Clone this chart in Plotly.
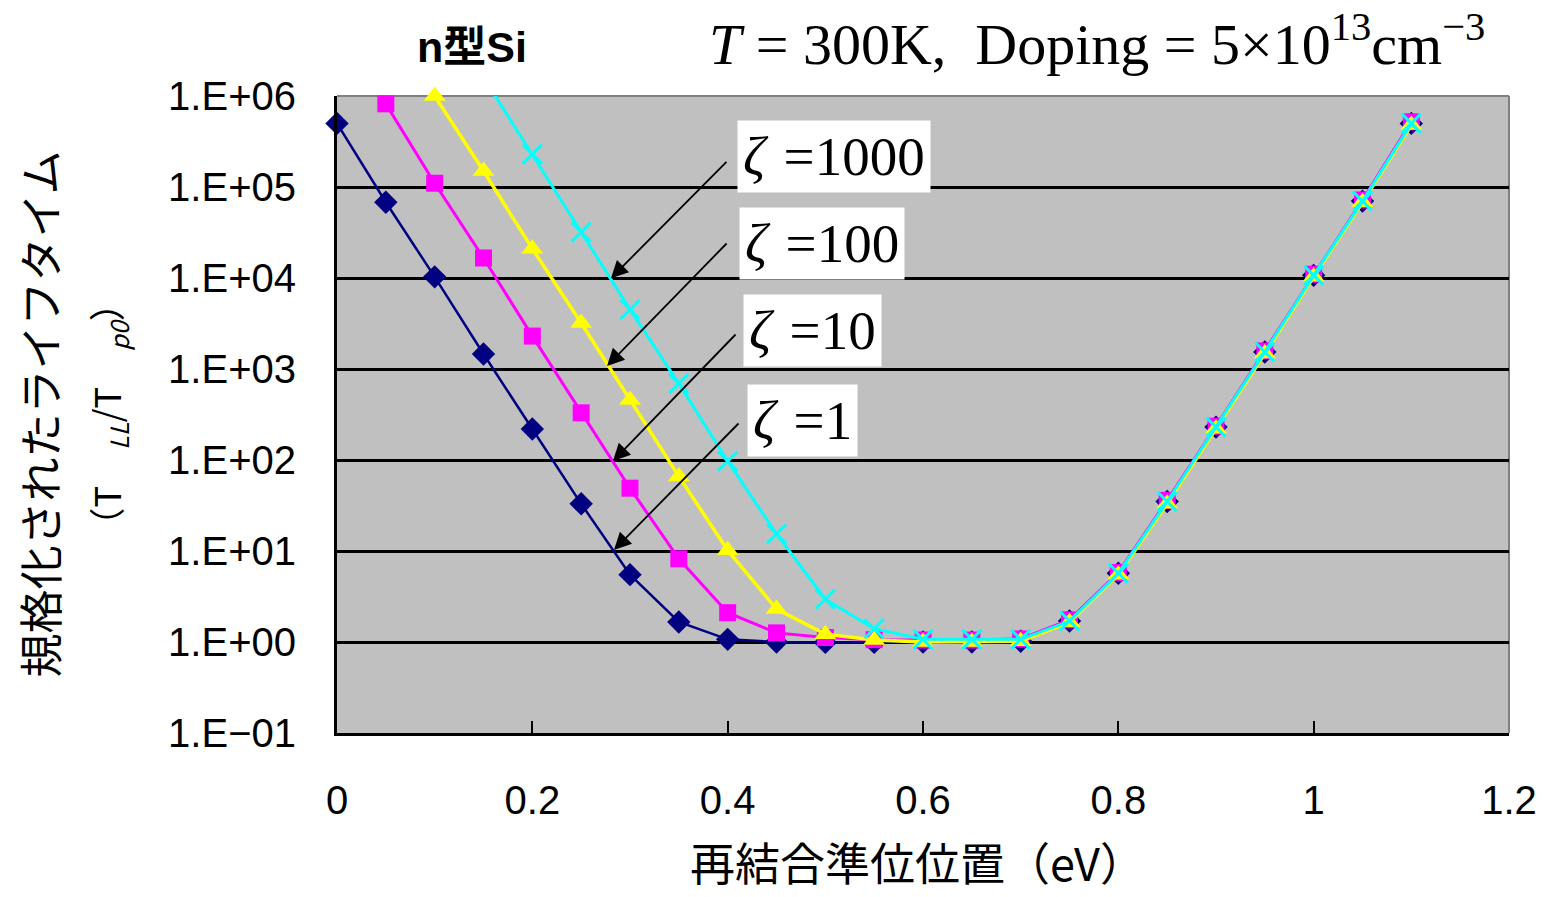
import plotly.graph_objects as go

# Recombination level position (eV)
energy = [0.0, 0.05, 0.1, 0.15, 0.2, 0.25, 0.3, 0.35, 0.4, 0.45, 0.5, 0.55,
          0.6, 0.65, 0.7, 0.75, 0.8, 0.85, 0.9, 0.95, 1.0, 1.05, 1.1]

# Normalized lifetime for each capture-ratio zeta
zeta_1 = [5.0e5, 6.8e4, 1.03e4, 1.46e3, 219, 33, 5.5, 1.66, 1.07, 1.0, 0.99, 0.99,
          1.0, 1.0, 1.02, 1.7, 5.7, 35, 230, 1.54e3, 1.07e4, 7.0e4, 5.0e5]
zeta_10 = [5.0e6, 8.2e5, 1.1e5, 1.66e4, 2.3e3, 330, 49, 8.2, 2.1, 1.26, 1.12, 1.06,
           1.05, 1.05, 1.08, 1.75, 5.8, 36, 235, 1.58e3, 1.1e4, 7.2e4, 5.2e5]
zeta_100 = [None, 7.0e6, 1.0e6, 1.5e5, 2.1e4, 3.2e3, 457, 66, 10.2, 2.3, 1.22, 1.05,
            1.0, 1.0, 1.02, 1.65, 5.5, 33, 220, 1.48e3, 1.03e4, 6.8e4, 4.8e5]
zeta_1000 = [None, None, None, 1.6e6, 2.3e5, 3.2e4, 4.5e3, 690, 97, 15.4, 2.95, 1.4,
             1.07, 1.07, 1.07, 1.7, 5.7, 35, 230, 1.54e3, 1.07e4, 7.0e4, 5.0e5]

series_names = ["ζ=1", "ζ=10", "ζ=100", "ζ=1000"]
series_values = [zeta_1, zeta_10, zeta_100, zeta_1000]
series_colors = ["#000080", "#FF00FF", "#FFFF00", "#00FFFF"]
series_symbols = ["diamond", "square", "triangle-up", "x-thin"]
series_sizes = [18, 17, 19, 19]
series_widths = [2.5, 3, 3.5, 3]

y_tickvals = [1e-1, 1e0, 1e1, 1e2, 1e3, 1e4, 1e5, 1e6]
y_ticktext = ["1.E−01", "1.E+00", "1.E+01", "1.E+02", "1.E+03", "1.E+04", "1.E+05", "1.E+06"]
x_tickvals = [0, 0.2, 0.4, 0.6, 0.8, 1.0, 1.2]
x_ticktext = ["0", "0.2", "0.4", "0.6", "0.8", "1", "1.2"]

# Label boxes (paper coords) and arrow heads (data coords, log10 y) with pixel offsets
label_texts = ["<i>ζ</i> \u200a=1000", "<i>ζ</i> \u200a=100", "<i>ζ</i> \u200a=10", "<i>ζ</i> \u200a=1"]
label_x = [0.4241, 0.4138, 0.4061, 0.3976]
label_y = [0.9058, 0.7677, 0.6311, 0.4898]
arrow_x = [0.2805, 0.2765, 0.2826, 0.2836]
arrow_logy = [3.997, 3.033, 1.989, 1.011]
arrow_ax = [117, 121, 124, 126]
arrow_ay = [-118, -124, -128, -128]

Y_MAX = 1e6 * 1.25

fig = go.Figure()
for name, vals, color, sym, size, lw in zip(series_names, series_values, series_colors,
                                           series_symbols, series_sizes, series_widths):
    # hide markers for points that fall above the plotted range
    msizes = [size if (v is not None and v <= Y_MAX) else 0 for v in vals]
    marker = dict(symbol=sym, size=msizes, color=color, opacity=1)
    if sym == "x-thin":
        marker["line"] = dict(color=color, width=3)
    else:
        marker["line"] = dict(width=0)
    fig.add_trace(go.Scatter(
        x=energy, y=vals, name=name, mode="lines+markers",
        line=dict(color=color, width=lw), marker=marker,
        cliponaxis=False, connectgaps=False, showlegend=False,
    ))

annotations = []
for t, lx, ly in zip(label_texts, label_x, label_y):
    annotations.append(dict(
        xref="paper", yref="paper", x=lx, y=ly, text=t, showarrow=False,
        xanchor="center", yanchor="middle",
        font=dict(family="Liberation Serif", size=55, color="black"),
        bgcolor="white", borderpad=5,
    ))
for ax_, lay, dx, dy in zip(arrow_x, arrow_logy, arrow_ax, arrow_ay):
    annotations.append(dict(
        xref="x", yref="y", x=ax_, y=lay, text="", showarrow=True,
        ax=dx, ay=dy, arrowhead=2, arrowsize=1.9, arrowwidth=1.8,
        arrowcolor="black",
    ))

# titles
annotations.append(dict(
    xref="paper", yref="paper", x=0.1152, y=1.077, text="<b>n型Si</b>",
    showarrow=False, xanchor="center", yanchor="middle",
    font=dict(family="Liberation Sans, Noto Sans CJK JP", size=43, color="black"),
))
annotations.append(dict(
    xref="paper", yref="paper", x=0.316, y=1.087,
    text="<i>T</i> = 300K,  Doping = 5×10<sup>13</sup>cm<sup>−3</sup>",
    showarrow=False, xanchor="left", yanchor="middle",
    font=dict(family="Liberation Serif", size=58, color="black"),
))
annotations.append(dict(
    xref="paper", yref="paper", x=0.4957, y=-0.2025, text="再結合準位位置（eV）",
    showarrow=False, xanchor="center", yanchor="middle", borderpad=0,
    font=dict(family="Noto Sans CJK JP", size=45, color="black"),
))
annotations.append(dict(
    xref="paper", yref="paper", x=-0.2551, y=0.5, text="規格化されたライフタイム",
    showarrow=False, xanchor="center", yanchor="middle", textangle=-90,
    font=dict(family="Noto Sans CJK JP", size=44, color="black"),
))
annotations.append(dict(
    xref="paper", yref="paper", x=-0.1954, y=0.5,
    text="（T\u3000<sub><i>LL</i></sub>/T\u3000<sub><i>p0</i></sub>）",
    showarrow=False, xanchor="center", yanchor="middle", textangle=-90,
    font=dict(family="Noto Sans CJK JP", size=36, color="black"),
))

# grey frame on top and right
shapes = [
    dict(type="line", xref="paper", yref="paper", x0=0, x1=1, y0=1, y1=1,
         line=dict(color="#808080", width=2), layer="below"),
    dict(type="line", xref="paper", yref="paper", x0=1, x1=1, y0=0, y1=1,
         line=dict(color="#808080", width=2), layer="below"),
]

fig.update_layout(
    width=1550, height=897,
    margin=dict(l=337, r=41, t=96, b=164),
    paper_bgcolor="white", plot_bgcolor="#C0C0C0",
    annotations=annotations, shapes=shapes,
    font=dict(family="Liberation Sans", color="black"),
)
fig.update_xaxes(
    range=[0, 1.2], tickvals=x_tickvals, ticktext=x_ticktext,
    showgrid=False, zeroline=False, showline=True, linecolor="black", linewidth=3,
    ticks="inside", ticklen=12, tickwidth=2, tickcolor="black",
    tickfont=dict(family="Liberation Sans", size=40, color="black"),
    ticklabelstandoff=30,
)
fig.update_yaxes(
    type="log", range=[-1, 6], tickvals=y_tickvals, ticktext=y_ticktext,
    showgrid=True, gridcolor="black", gridwidth=2.5, zeroline=False,
    showline=True, linecolor="black", linewidth=3,
    ticks="inside", ticklen=12, tickwidth=2, tickcolor="black",
    tickfont=dict(family="Liberation Sans", size=40, color="black"),
    ticklabelstandoff=30,
)

fig.write_html("out.html")
